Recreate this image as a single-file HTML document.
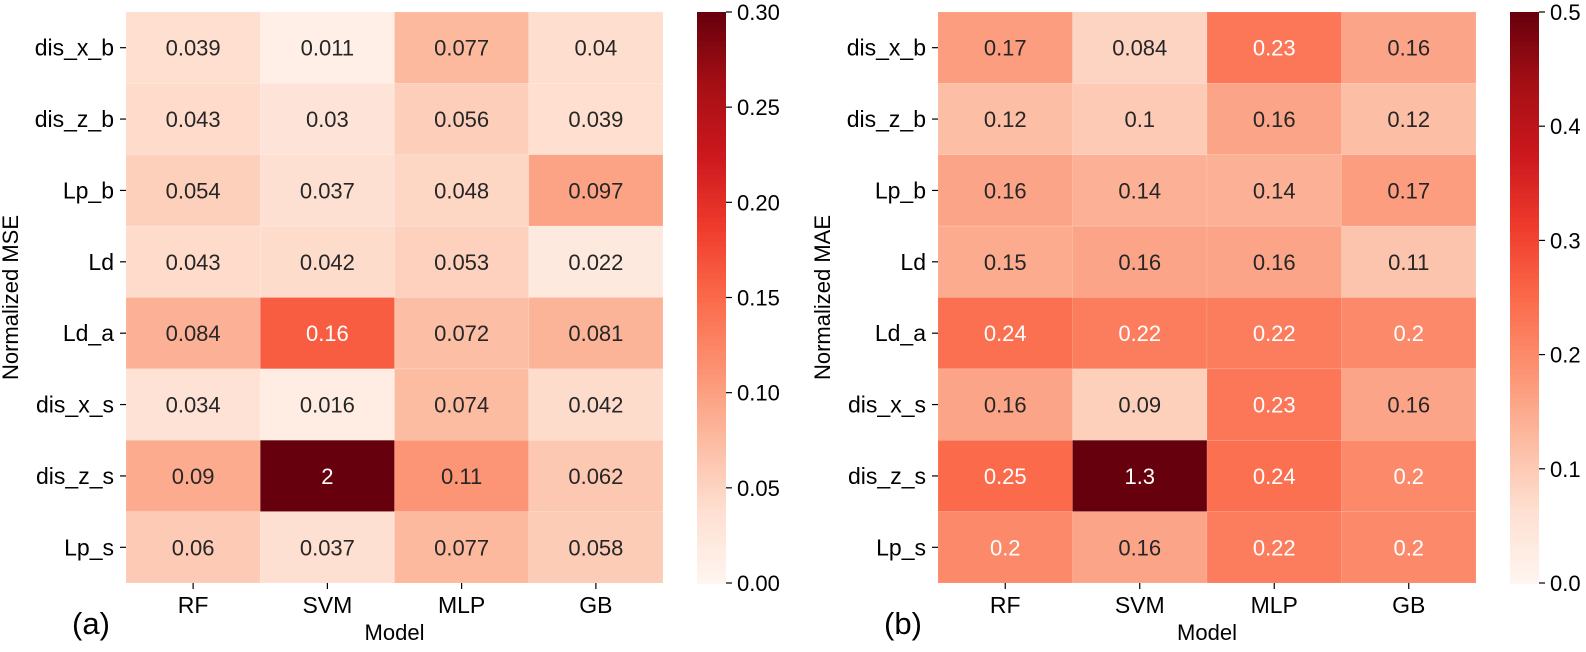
<!DOCTYPE html>
<html><head><meta charset="utf-8"><style>
body{margin:0;background:#fff;}
svg text{font-family:"Liberation Sans",Arial,sans-serif;}
</style></head><body>
<svg id="c" width="1586" height="647" xmlns="http://www.w3.org/2000/svg"></svg>
<script>
const models = ["RF","SVM","MLP","GB"];
const rows = ["dis_x_b","dis_z_b","Lp_b","Ld","Ld_a","dis_x_s","dis_z_s","Lp_s"];
const mseValues = [
 [0.039,0.011,0.077,0.04],
 [0.043,0.03,0.056,0.039],
 [0.054,0.037,0.048,0.097],
 [0.043,0.042,0.053,0.022],
 [0.084,0.16,0.072,0.081],
 [0.034,0.016,0.074,0.042],
 [0.09,2,0.11,0.062],
 [0.06,0.037,0.077,0.058]];
const maeValues = [
 [0.17,0.084,0.23,0.16],
 [0.12,0.1,0.16,0.12],
 [0.16,0.14,0.14,0.17],
 [0.15,0.16,0.16,0.11],
 [0.24,0.22,0.22,0.2],
 [0.16,0.09,0.23,0.16],
 [0.25,1.3,0.24,0.2],
 [0.2,0.16,0.22,0.2]];
const mseTicks = ["0.00","0.05","0.10","0.15","0.20","0.25","0.30"];
const maeTicks = ["0.0","0.1","0.2","0.3","0.4","0.5"];

const stops=["#fff5f0","#fee0d2","#fcbba1","#fc9272","#fb6a4a","#ef3b2c","#cb181d","#a50f15","#67000d"].map(h=>[1,3,5].map(i=>parseInt(h.substr(i,2),16)));
function reds(t){t=Math.max(0,Math.min(1,t));const p=t*8,i=Math.min(7,Math.floor(p)),f=p-i;return stops[i].map((v,k)=>v+(stops[i+1][k]-v)*f);}
function lum(c){const l=c.map(v=>{v/=255;return v<=0.03928?v/12.92:Math.pow((v+0.055)/1.055,2.4)});return 0.2126*l[0]+0.7152*l[1]+0.0722*l[2];}
const NS="http://www.w3.org/2000/svg",svgRoot=document.getElementById('c');
function el(t,a,txt){const e=document.createElementNS(NS,t);for(const k in a)e.setAttribute(k,a[k]);if(txt!==undefined)e.textContent=txt;svgRoot.appendChild(e);return e;}
const plotTop=12,plotBot=583;
function panel(vals,vmax,ticks,x0,x1,cbx,ylabel,tag,tagx,pre){
 const cw=(x1-x0)/models.length,ch=(plotBot-plotTop)/rows.length;
 const xs=j=>x0+j*cw, ys=i=>plotTop+i*ch;
 vals.forEach((r,i)=>r.forEach((v,j)=>{
  const c=reds(v/vmax);
  const rc=el('rect',{x:xs(j),y:ys(i),width:cw,height:ch,fill:`rgb(${c.map(Math.round).join(',')})`,stroke:'rgba(255,255,255,0.2)','stroke-width':0.6});
  
  
  const t=el('text',{x:xs(j)+cw/2,y:ys(i)+ch/2+8,'text-anchor':'middle','font-size':22,fill:lum(c)>0.408?'#262626':'#ffffff'},String(v));
  
  
 }));
 rows.forEach((r,i)=>{const y=ys(i)+ch/2;el('line',{x1:x0-6,x2:x0,y1:y,y2:y,stroke:'#000','stroke-width':1.2});
  const t=el('text',{x:x0-12,y:y+8,'text-anchor':'end','font-size':23},r);
  
  });
 models.forEach((m,j)=>{const x=xs(j)+cw/2;el('line',{x1:x,x2:x,y1:plotBot,y2:plotBot+6,stroke:'#000','stroke-width':1.2});
  const t=el('text',{x:x,y:plotBot+30,'text-anchor':'middle','font-size':23},m);
  
  });
 let t=el('text',{x:(x0+x1)/2,y:640,'text-anchor':'middle','font-size':22},'Model');
 
 t=el('text',{transform:`translate(${x0-108},${(plotTop+plotBot)/2}) rotate(-90)`,'text-anchor':'middle','font-size':22},ylabel);
 
 t=el('text',{x:tagx,y:634,'font-size':31},tag);
 
 const n=120,h=(plotBot-plotTop)/n;
 for(let k=0;k<n;k++){const c=reds((k+0.5)/n);el('rect',{x:cbx,y:plotBot-(k+1)*h,width:29,height:h+0.6,fill:`rgb(${c.map(Math.round).join(',')})`});}
 const cb=el('rect',{x:cbx,y:plotTop,width:29,height:plotBot-plotTop,fill:'none'});
 
 ticks.forEach((tk,k)=>{const y=plotBot-(parseFloat(tk)/vmax)*(plotBot-plotTop);
  el('line',{x1:cbx+29,x2:cbx+35,y1:y,y2:y,stroke:'#000','stroke-width':1.2});
  const tt=el('text',{x:cbx+40,y:y+8,'font-size':22},tk);
  });
}
panel(mseValues,0.3,mseTicks,126,663,697,'Normalized MSE','(a)',72,'mse');
panel(maeValues,0.5,maeTicks,938,1476,1510,'Normalized MAE','(b)',884,'mae');
</script>
</body></html>
